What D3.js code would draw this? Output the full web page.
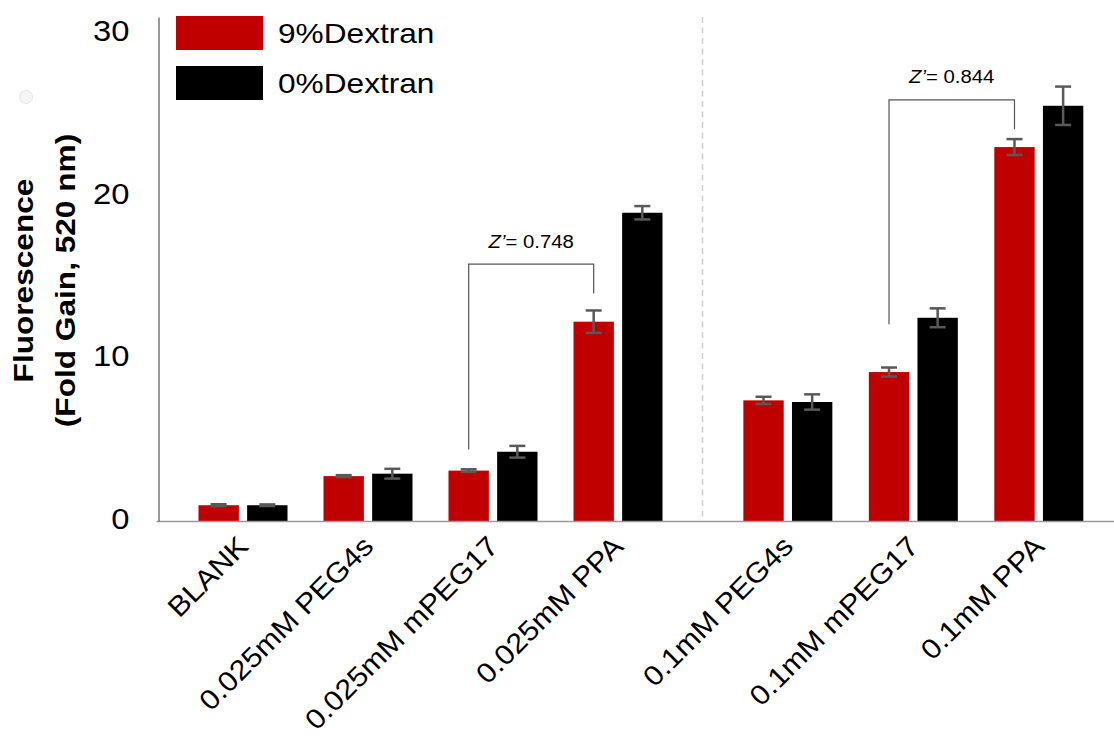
<!DOCTYPE html>
<html>
<head>
<meta charset="utf-8">
<script src="https://cdn.jsdelivr.net/npm/d3@7"></script>
<style>
  html, body { margin: 0; padding: 0; background: #fff; }
  svg { display: block; }
  text { font-family: "Liberation Sans", Arial, sans-serif; fill: #000; }
</style>
</head>
<body>
<svg id="chart" width="1114" height="742"></svg>
<script>
// Fold gain in fluorescence at 520 nm, with and without 9% dextran
const categories = [
  "BLANK", "0.025mM PEG4s", "0.025mM mPEG17", "0.025mM PPA",
  "0.1mM PEG4s", "0.1mM mPEG17", "0.1mM PPA"
];
const seriesNames = ["9%Dextran", "0%Dextran"];
const dextran9    = [0.97, 2.76, 3.10, 12.26, 7.42, 9.16, 23.00];
const dextran9Err = [0.06, 0.06, 0.08, 0.69, 0.22, 0.28, 0.49];
const dextran0    = [0.97, 2.91, 4.26, 18.96, 7.32, 12.50, 25.54];
const dextran0Err = [0.05, 0.30, 0.36, 0.41, 0.47, 0.58, 1.18];
const yTicks = [0, 10, 20, 30];

// Z' factor brackets: compared categories, bracket level and leg ends (fold gain units)
const zPrimeValues = ["0.748", "0.844"];
const zPrimePairs = [["0.025mM mPEG17", "0.025mM PPA"], ["0.1mM mPEG17", "0.1mM PPA"]];
const zPrimeLevels = [15.8, 25.9];
const zPrimeFeet = [[4.4, 14.0], [12.1, 24.1]];

const colors = { "9%Dextran": "#C00000", "0%Dextran": "#000000" };
const values = { "9%Dextran": dextran9, "0%Dextran": dextran0 };
const errors = { "9%Dextran": dextran9Err, "0%Dextran": dextran0Err };

const svg = d3.select("#chart");
const W = 1114;
const axisX = 158.5, splitX = 702.5;
const SX = 1.13;  // glyph width factor for the wide sans labels
const SXC = 1.09; // same, for the rotated category labels

const y = d3.scaleLinear().domain([0, 31]).range([521, 17]);

// two panels: 0.025 mM set on the left, 0.1 mM set on the right
const leftCats = categories.slice(0, 4);
const rightCats = categories.slice(4);
const xLeft = d3.scaleBand().domain(leftCats).range([158, 703]).paddingInner(0.288).paddingOuter(0.324);
const xRight = d3.scaleBand().domain(rightCats).range([703, 1124]).paddingInner(0.288).paddingOuter(0.3215);
const xGroup = c => leftCats.includes(c) ? xLeft(c) : xRight(c);
const bw = xLeft.bandwidth();
const xSub = d3.scaleBand().domain(seriesNames).range([0, bw]).paddingInner(0.17);

// faint round marker at the upper left
svg.append("circle").attr("cx", 26).attr("cy", 97).attr("r", 6.5)
  .attr("fill", "#f5f5f5").attr("stroke", "#e6e6e6").attr("stroke-width", 1);

// panel separator
svg.append("line")
  .attr("x1", splitX).attr("x2", splitX).attr("y1", y(31)).attr("y2", y(0))
  .attr("stroke", "#cfcfcf").attr("stroke-width", 1.5).attr("stroke-dasharray", "6,4.5");

// bars
const rows = categories.map((c, i) => ({ c, i }));
const groups = svg.append("g").selectAll("g").data(rows).join("g")
  .attr("transform", d => `translate(${xGroup(d.c)},0)`);

groups.selectAll("rect").data(d => seriesNames.map(s => ({ s, v: values[s][d.i] })))
  .join("rect")
  .attr("x", d => xSub(d.s))
  .attr("width", xSub.bandwidth())
  .attr("y", d => y(d.v))
  .attr("height", d => y(0) - y(d.v))
  .attr("fill", d => colors[d.s]);

// error bars
const capW = 16;
const eb = groups.selectAll("g.err").data(d => seriesNames.map(s => ({ s, v: values[s][d.i], e: errors[s][d.i] })))
  .join("g").attr("class", "err")
  .attr("transform", d => `translate(${xSub(d.s) + xSub.bandwidth() / 2},0)`)
  .attr("stroke", "#595959").attr("stroke-width", 2.5);
eb.append("line").attr("x1", 0).attr("x2", 0).attr("y1", d => y(d.v + d.e)).attr("y2", d => y(d.v - d.e));
eb.append("line").attr("x1", -capW / 2).attr("x2", capW / 2).attr("y1", d => y(d.v + d.e)).attr("y2", d => y(d.v + d.e));
eb.append("line").attr("x1", -capW / 2).attr("x2", capW / 2).attr("y1", d => y(d.v - d.e)).attr("y2", d => y(d.v - d.e));

// x axis baseline
svg.append("line").attr("x1", axisX - 2).attr("x2", W).attr("y1", y(0) + 0.5).attr("y2", y(0) + 0.5)
  .attr("stroke", "#9a9a9a").attr("stroke-width", 1.5);

// y axis
const yAxis = svg.append("g").attr("transform", `translate(${axisX},0)`)
  .call(d3.axisLeft(y).tickValues(yTicks).tickSize(0).tickSizeOuter(0).tickFormat(d3.format("d")));
yAxis.select(".domain").attr("stroke", "#555").attr("stroke-width", 1.2);
yAxis.selectAll(".tick text")
  .attr("x", 0)
  .attr("transform", `translate(-29,-2) scale(${SX},1)`)
  .style("font-size", "29px")
  .style("font-family", "'Liberation Sans', Arial, sans-serif")
  .attr("fill", "#000");

// category labels, rotated; the baseline ends just right of the group centre
svg.append("g").selectAll("text").data(categories).join("text")
  .attr("transform", c => `translate(${xGroup(c) + bw / 2 + 7},548) rotate(-45) scale(${SXC},1)`)
  .attr("text-anchor", "end")
  .style("font-size", "28px")
  .text(c => c);

// y title, two lines
const yTitle = svg.append("g").attr("transform", "translate(0,280.5)");
yTitle.append("text")
  .attr("transform", `translate(33,0) rotate(-90) scale(${SX},1)`)
  .attr("text-anchor", "middle")
  .style("font-size", "28px").style("font-weight", "bold")
  .text("Fluorescence");
yTitle.append("text")
  .attr("transform", `translate(75,0) rotate(-90) scale(${SX},1)`)
  .attr("text-anchor", "middle")
  .style("font-size", "28px").style("font-weight", "bold")
  .text("(Fold Gain, 520 nm)");

// legend
const legend = svg.append("g");
seriesNames.forEach((s, i) => {
  legend.append("rect")
    .attr("x", 176).attr("y", 16 + i * 50).attr("width", 87).attr("height", 34)
    .attr("fill", colors[s]);
  legend.append("text")
    .attr("transform", `translate(278,${43 + i * 50}) scale(${SX},1)`)
    .style("font-size", "28px")
    .text(s);
});

// Z' brackets
const redCenter = c => xGroup(c) + xSub(seriesNames[0]) + xSub.bandwidth() / 2;
zPrimePairs.forEach((pair, k) => {
  const xa = redCenter(pair[0]), xb = redCenter(pair[1]);
  const top = y(zPrimeLevels[k]);
  svg.append("path")
    .attr("d", `M${xa},${y(zPrimeFeet[k][0])}V${top}H${xb}V${y(zPrimeFeet[k][1])}`)
    .attr("fill", "none").attr("stroke", "#555").attr("stroke-width", 1.2);
  const t = svg.append("text")
    .attr("transform", `translate(${(xa + xb) / 2},${top - 16.5}) scale(${SX},1)`)
    .attr("text-anchor", "middle")
    .style("font-size", "18px");
  t.append("tspan").style("font-style", "italic").text("Z\u2019");
  t.append("tspan").text("= " + zPrimeValues[k]);
});
</script>
</body>
</html>
